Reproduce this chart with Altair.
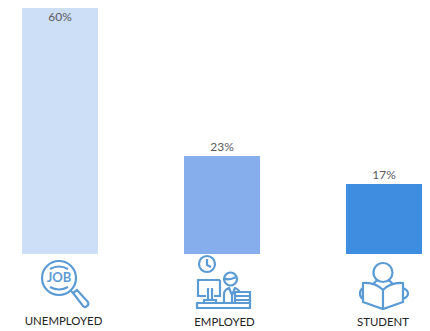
import altair as alt
import pandas as pd

categories = ["UNEMPLOYED", "EMPLOYED", "STUDENT"]
values = [60, 23.5, 16.8]
labels = ["60%", "23%", "17%"]
colors = ["#CDDEF7", "#86AEEC", "#3F8DE0"]
label_dy = [13, -9, -9]
name_dx = [3.5, 2.5, -1]
name_y = [318, 319, 319]

circ = lambda x, y, r: f"M{x-r} {y}a{r} {r} 0 1 0 {2*r} 0a{r} {r} 0 1 0 {-2*r} 0"
icons = [
    circ(-1, -4, 17) + "M-10 -13Q-1 -18 8 -13M-10 5Q-1 10 8 5M11 9L14 12"
    "M13 11L17 8L28 20Q29 23 27 24Q25 26 23 24Z",
    circ(-15, -18, 8) + "M-15 -23L-15 -17L-11 -15"
    "M-2 -2L-24 -2L-24 14L-16 14M-2 -2L-2 14L-8 14M-14 6L-14 17M-10 6L-10 17M-18 21L-18 18L-6 18L-6 21"
    "M-25 21H28V26H-25Z" + circ(8.5, -3, 6.5) + "M2 -4Q6 -1 14 -5"
    "M2 21L2 12Q2 8 7 6L10 13L13 6Q16 7 18 10M10 13L10 21M13 10H28V21H13ZM13 14H28M13 18H28",
    circ(-1, -9.5, 9.5) + "M-1 8Q-9 0 -21 1L-21 20L-1 27L19 20L19 1Q7 0 -1 8L-1 27"
    "M-11 3Q-9 -1 -6 -2M9 3Q7 -1 4 -2"
    "M-21 6Q-24 8 -24 11.5Q-24 15 -21 17M19 6Q24 8 24 11.5Q24 15 19 17",
]

df = pd.DataFrame({"category": categories, "value": values, "label": labels,
                   "color": colors})

x = alt.X("category:N", sort=categories, axis=None,
          scale=alt.Scale(range=[14, 414], paddingInner=0.5306, paddingOuter=0))
y = alt.Y("value:Q", axis=None, scale=alt.Scale(domain=[0, 60], range=[250, 0]))

layers = [
    alt.Chart(df).mark_bar().encode(
        x=x, y=y, color=alt.Color("color:N", scale=None, legend=None))
]
for i, cat in enumerate(categories):
    row = df[df.category == cat]
    layers.append(alt.Chart(row).mark_text(
        font="Lato", fontSize=12, color="#595959", baseline="middle", dy=label_dy[i]
    ).encode(x=x, y=y, text="label:N"))
    layers.append(alt.Chart(row).mark_text(
        font="Lato", fontSize=11.4, color="#222222", baseline="middle", dx=name_dx[i]
    ).encode(x=x, y=alt.value(name_y[i]), text="category:N"))
    layers.append(alt.Chart(row).mark_point(
        filled=False, size=4, opacity=1, color="#5B9BD5", strokeWidth=2.2, shape=icons[i]
    ).encode(x=x, y=alt.value(278)))

job = df[df.category == "UNEMPLOYED"].assign(word="JOB")
layers.append(alt.Chart(job).mark_text(
    font="Lato", fontSize=13, fontWeight="bold", color="#5B9BD5", baseline="middle", dx=-1
).encode(x=x, y=alt.value(274), text="word:N"))

chart = alt.layer(*layers).properties(
    width=414, height=319,
    padding={"left": 0, "top": -4, "right": 0, "bottom": 8},
    autosize=alt.AutoSizeParams(type="none"),
).configure_view(stroke=None)

chart.save("out.html", embed_options={"renderer": "svg", "actions": False})
